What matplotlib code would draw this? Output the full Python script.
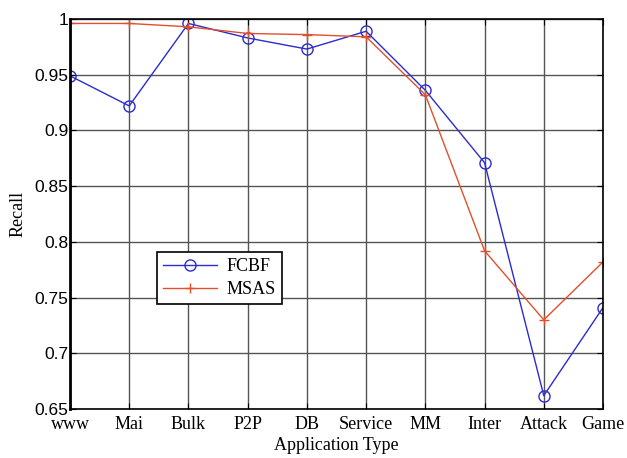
import matplotlib
matplotlib.use('Agg')
import matplotlib.pyplot as plt

# application types and recall values
apps = ['www', 'Mai', 'Bulk', 'P2P', 'DB', 'Service', 'MM', 'Inter', 'Attack', 'Game']
fcbf = [0.949, 0.922, 0.996, 0.983, 0.973, 0.989, 0.936, 0.871, 0.662, 0.741]
msas = [0.996, 0.996, 0.993, 0.987, 0.986, 0.984, 0.932, 0.792, 0.730, 0.782]

x = list(range(1, len(apps) + 1))

fig = plt.figure(figsize=(6.27, 4.58), dpi=100)
ax = fig.add_axes([70/627, 49/458, 533/627, 390/458])

ax.plot(x, fcbf, color='#2b2bd0', marker='o', markersize=8, markerfacecolor='none',
        markeredgewidth=1.0, linewidth=1.0, label='FCBF')
ax.plot(x, msas, color='#e0502c', marker='+', markersize=7, linewidth=1.0, label='MSAS')

ax.set_xlim(1, 10)
ax.set_ylim(0.65, 1.0)
ax.set_xticks(x)
ax.set_xticklabels(apps, fontfamily='Liberation Serif', fontsize=13)
ax.set_yticks([0.65, 0.7, 0.75, 0.8, 0.85, 0.9, 0.95, 1.0])
ax.set_yticklabels(['0.65', '0.7', '0.75', '0.8', '0.85', '0.9', '0.95', '1'],
                   fontfamily='Liberation Sans', fontsize=12.5)
ax.tick_params(direction='in', top=True, right=True, length=4)
ax.tick_params(axis='x', pad=5)
ax.tick_params(axis='y', pad=1)
ax.grid(True, color='#555555', linewidth=1.0)
for s in ax.spines.values():
    s.set_linewidth(1.2)
ax.spines['left'].set_linewidth(2.0)

ax.set_xlabel('Application Type', fontfamily='Liberation Serif', fontsize=13, labelpad=3)
ax.set_ylabel('Recall', fontfamily='Liberation Serif', fontsize=13, labelpad=6)

leg = ax.legend(loc='lower left', bbox_to_anchor=(0.163, 0.268),
                prop={'family': 'Liberation Serif', 'size': 13},
                fancybox=False, edgecolor='black', framealpha=1,
                handlelength=3.0, borderpad=0.35, labelspacing=0.35,
                handletextpad=0.5, borderaxespad=0)
leg.get_frame().set_linewidth(1.2)

fig.savefig('out.png', dpi=100)
